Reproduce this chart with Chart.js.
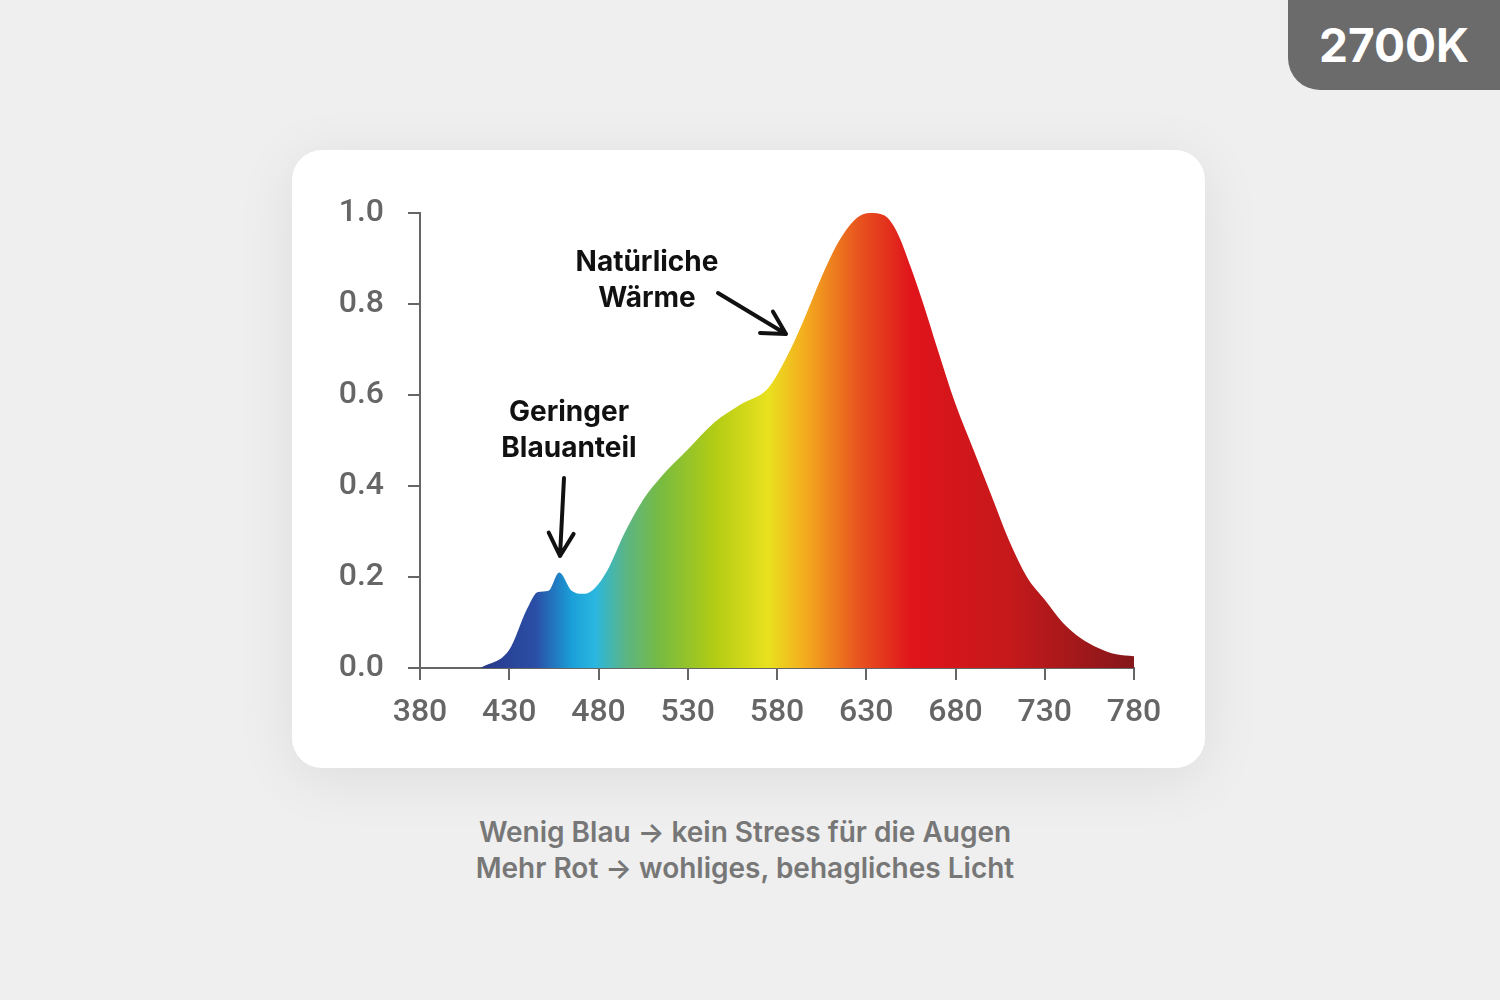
<!DOCTYPE html>
<html><head><meta charset="utf-8">
<script src="https://cdn.jsdelivr.net/npm/chart.js@4/dist/chart.umd.min.js"></script>
<style>
html,body{margin:0;padding:0;width:1500px;height:1000px;background:#efefef;overflow:hidden;font-family:Inter,"Open Sans",sans-serif}
#card{position:absolute;left:292px;top:150px;width:913px;height:618px;background:#fff;border-radius:30px;box-shadow:0 10px 60px rgba(0,0,0,0.08)}
#badge{position:absolute;left:1288px;top:0;width:212px;height:90px;background:#6b6b6b;border-bottom-left-radius:32px;color:#fff;font:700 46px Inter,sans-serif;display:flex;align-items:center;justify-content:center}
#caption{position:absolute;left:0;width:1490px;top:814px;text-align:center;color:#777;font:600 28px Inter,sans-serif;line-height:36px}
canvas{position:absolute;left:0;top:0}
</style></head><body>
<div id="badge">2700K</div>
<div id="card"><canvas id="c" width="913" height="618"></canvas></div>
<div id="caption">Wenig Blau → kein Stress für die Augen<br>Mehr Rot → wohliges, behagliches Licht</div>
<script>
const wavelengths=[414,430,440,446,452,458,465,472,478,485,495,505,515,530,545,560,575,585,595,605,615,625,632,640,647,655,662,670,680,690,700,710,720,730,740,750,760,770,780];
const intensity=[0,0.04,0.13,0.167,0.17,0.21,0.17,0.163,0.176,0.215,0.30,0.37,0.42,0.48,0.54,0.58,0.615,0.68,0.765,0.86,0.94,0.99,1.0,0.995,0.96,0.88,0.80,0.70,0.58,0.48,0.38,0.28,0.20,0.15,0.10,0.066,0.044,0.03,0.026];
const xTicks=[380,430,480,530,580,630,680,730,780];
const yTicks=[0,0.2,0.4,0.6,0.8,1.0];
const gradStops=[[415,'#28398a'],[445,'#2a4fa6'],[465,'#1a9fd8'],[478,'#2ab7e0'],[495,'#5bb585'],[515,'#78bb40'],[545,'#b2cc14'],[575,'#e9e11e'],[595,'#f4ae1e'],[625,'#e8561f'],[655,'#e0141b'],[710,'#c5191b'],[780,'#85171a']];
const notes=[{lines:['Natürliche','Wärme'],x:647,y:263,arrow:[[718,293],[786,334]]},{lines:['Geringer','Blauanteil'],x:569,y:413,arrow:[[564,478],[560,556]]}];
const annot={id:'annot',afterDatasetsDraw(ch){const c=ch.ctx;c.save();c.fillStyle='#111';c.font='700 28px Inter,sans-serif';c.textAlign='center';c.textBaseline='middle';
for(const n of notes){n.lines.forEach((l,i)=>c.fillText(l,n.x-292,n.y-150+i*36));
const [a,b]=n.arrow;const ax=a[0]-292,ay=a[1]-150,bx=b[0]-292,by=b[1]-150;c.strokeStyle='#111';c.lineWidth=4;c.lineCap='round';c.beginPath();c.moveTo(ax,ay);c.lineTo(bx,by);
const ang=Math.atan2(by-ay,bx-ax);for(const d of [0.5,-0.5]){c.moveTo(bx,by);c.lineTo(bx-26*Math.cos(ang+d),by-26*Math.sin(ang+d));}c.stroke();}
c.restore();}};
new Chart(document.getElementById('c'),{type:'line',
data:{datasets:[{data:wavelengths.map((w,i)=>({x:w,y:intensity[i]})),fill:'origin',tension:0.4,cubicInterpolationMode:'monotone',pointRadius:0,borderWidth:0,
backgroundColor(ctx){const ch=ctx.chart,a=ch.chartArea;if(!a)return '#e0141b';const xs=ch.scales.x;const g=ch.ctx.createLinearGradient(xs.getPixelForValue(380),0,xs.getPixelForValue(780),0);gradStops.forEach(s=>g.addColorStop((s[0]-380)/400,s[1]));return g;}}]},
options:{responsive:false,animation:false,layout:{padding:{top:63,right:71,left:0,bottom:0}},plugins:{legend:{display:false},tooltip:{enabled:false}},
scales:{x:{type:'linear',min:380,max:780,afterBuildTicks(s){s.ticks=xTicks.map(v=>({value:v}));},afterFit(s){s.height=100;},
grid:{drawOnChartArea:false,drawTicks:true,tickLength:12,color:'#666',lineWidth:2},border:{color:'#666',width:2},
ticks:{color:'#666',font:{family:'Roboto',size:32,weight:'500'},padding:14,maxRotation:0,autoSkip:false}},
y:{min:0,max:1,afterBuildTicks(s){s.ticks=yTicks.map(v=>({value:v}));},afterFit(s){s.width=128;},
grid:{drawOnChartArea:false,drawTicks:true,tickLength:12,color:'#666',lineWidth:2},border:{color:'#666',width:2},
ticks:{color:'#666',font:{family:'Roboto',size:32,weight:'500'},padding:24,callback:v=>v.toFixed(1)}}}},
plugins:[annot]});
</script></body></html>
